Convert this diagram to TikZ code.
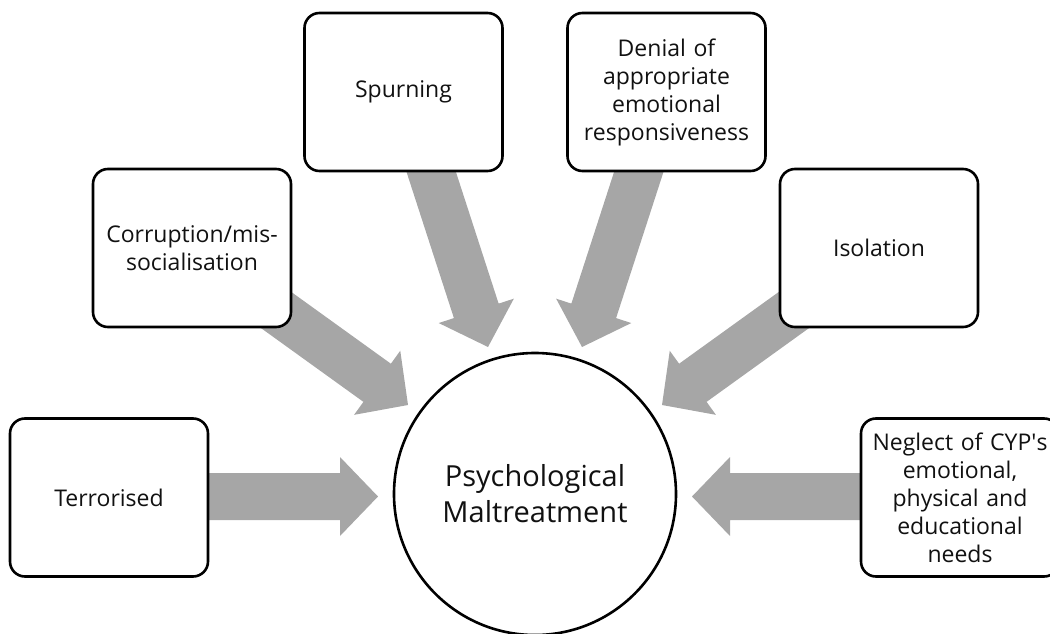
\documentclass[tikz,border=0pt]{standalone}
\usepackage{fontspec}
\setmainfont{Open Sans}
\usetikzlibrary{calc}

\definecolor{arrowgray}{HTML}{A6A6A6}
\definecolor{inkdark}{HTML}{111111}

% Broad block arrow from #1 to the tip #2
\newcommand\shaftw{23.5pt}
\newcommand\headw{39.5pt}
\newcommand\headl{38pt}
\newcommand\fatarrow[2]{%
  \coordinate (hb) at ($(#2)!\headl!(#1)$);
  \fill[arrowgray]
    ($(#1)!\shaftw!90:(#2)$) --
    ($(hb)!\shaftw!-90:(#1)$) --
    ($(hb)!\headw!-90:(#1)$) --
    (#2) --
    ($(hb)!\headw!90:(#1)$) --
    ($(hb)!\shaftw!90:(#1)$) --
    ($(#1)!\shaftw!-90:(#2)$) -- cycle;
}

\begin{document}
\begin{tikzpicture}[x=1pt,y=-1pt,
  formbox/.style={draw=black, line width=2.6pt, fill=white, rounded corners=15pt,
    minimum width=198pt, minimum height=158pt, inner sep=2pt,
    align=center, text width=190pt, text=inkdark,
    font=\fontsize{23}{28}\selectfont},
  hub/.style={circle, draw=black, line width=2.6pt, fill=white,
    minimum size=282pt, inner sep=0pt, align=center, text=inkdark,
    font=\fontsize{29}{36}\selectfont}]

\useasboundingbox (0,0) rectangle (1050,634);

% start points (inside the boxes) and tips (at the hub)
\coordinate (terr-s) at (200,496.5);  \coordinate (terr-t) at (378,496.5);
\coordinate (negl-s) at (870,496.5);  \coordinate (negl-t) at (692,496.5);
\coordinate (corr-s) at (265,302);    \coordinate (corr-t) at (408,405);
\coordinate (iso-s)  at (805,302);    \coordinate (iso-t)  at (662,405);
\coordinate (spurn-s) at (428,162);   \coordinate (spurn-t) at (488,347);
\coordinate (deny-s) at (642,162);    \coordinate (deny-t) at (582,347);

\fatarrow{terr-s}{terr-t}
\fatarrow{negl-s}{negl-t}
\fatarrow{corr-s}{corr-t}
\fatarrow{iso-s}{iso-t}
\fatarrow{spurn-s}{spurn-t}
\fatarrow{deny-s}{deny-t}

\node[hub] (pm) at (535,494) {Psychological\\Maltreatment};

\node[formbox] (terr)  at (109,497.5) {Terrorised};
\node[formbox] (corr)  at (192,248)   {Corruption/mis-\\socialisation};
\node[formbox] (spurn) at (403.5,92)  {Spurning};
\node[formbox] (deny)  at (666.5,92)  {Denial of\\appropriate\\emotional\\responsiveness};
\node[formbox] (iso)   at (879,248)   {Isolation};
\node[formbox] (negl)  at (960,497.5) {Neglect of CYP\textquotesingle s\\emotional,\\physical and\\educational\\needs};
\end{tikzpicture}
\end{document}
